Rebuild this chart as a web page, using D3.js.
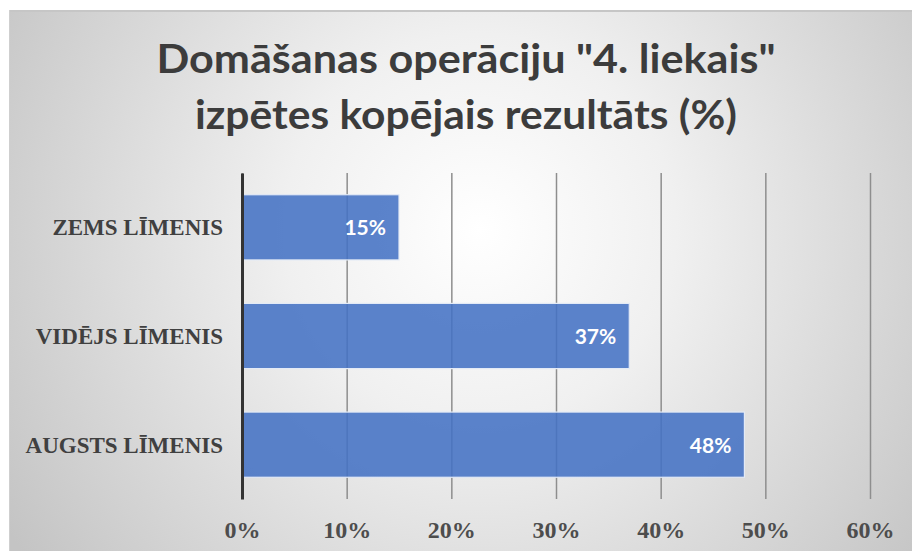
<!DOCTYPE html>
<html><head><meta charset="utf-8">
<script src="https://cdn.jsdelivr.net/npm/d3@7"></script>
<style>html,body{margin:0;padding:0;background:#fff;}svg{display:block;}</style>
</head><body>
<script>
const titleLines = ["Domāšanas operāciju \"4. liekais\"", "izpētes kopējais rezultāts (%)"];
const categories = ["ZEMS LĪMENIS", "VIDĒJS LĪMENIS", "AUGSTS LĪMENIS"];
const values = [15, 37, 48];
const tickValues = [0, 10, 20, 30, 40, 50, 60];

const W = 912, H = 551;
const svg = d3.select("body").append("svg").attr("width", W).attr("height", H);
const defs = svg.append("defs");
const rg = defs.append("radialGradient").attr("id", "bg")
  .attr("gradientUnits", "userSpaceOnUse")
  .attr("cx", 480).attr("cy", 230).attr("r", 560);
rg.append("stop").attr("offset", "0").attr("stop-color", "#ffffff");
rg.append("stop").attr("offset", "0.35").attr("stop-color", "#f0f0f0");
rg.append("stop").attr("offset", "1").attr("stop-color", "#c4c4c4");

svg.append("rect").attr("x", 9).attr("y", 10).attr("width", W - 9).attr("height", H - 10).attr("fill", "url(#bg)");
svg.append("line").attr("x1", 9).attr("x2", W).attr("y1", 11).attr("y2", 11).attr("stroke", "#c6c6c6").attr("stroke-width", 2);
svg.append("line").attr("x1", 9.5).attr("x2", 9.5).attr("y1", 10).attr("y2", H).attr("stroke", "#cfcfcf").attr("stroke-width", 1);

// title
const titleG = svg.append("g");
const titleY = [73, 129], titleW = [619, 542];
titleLines.forEach((t, i) => {
  titleG.append("text").attr("x", 466).attr("y", titleY[i])
    .attr("text-anchor", "middle")
    .attr("font-family", "Lato, 'Open Sans', sans-serif").attr("font-weight", 700)
    .attr("font-size", 40).attr("fill", "#3c3c3c")
    .attr("textLength", titleW[i]).attr("lengthAdjust", "spacingAndGlyphs")
    .text(t);
});

const x = d3.scaleLinear().domain([0, 60]).range([242, 870]);
const y = d3.scaleBand().domain(categories).range([173, 499]).paddingInner(0.4).paddingOuter(0.2);

// grid + x tick labels
const xAxis = d3.axisBottom(x).tickValues(tickValues).tickFormat(d => d + "%")
  .tickSizeInner(-(499 - 173)).tickSizeOuter(0).tickPadding(22);
const gx = svg.append("g").attr("transform", "translate(0,499)").call(xAxis);
gx.select(".domain").remove();
gx.selectAll(".tick line").attr("stroke", "#8e8e8e").attr("stroke-width", 1.5);
gx.selectAll(".tick text").attr("font-family", "'Liberation Serif', 'Times New Roman', serif")
  .attr("font-weight", "bold").attr("font-size", 24).attr("fill", "#4d4d4d")
  .attr("y", 39).attr("dy", 0);

// bars
svg.append("g").selectAll("rect").data(values).join("rect")
  .attr("x", x(0)).attr("y", (d, i) => y(categories[i]))
  .attr("width", d => x(d) - x(0)).attr("height", y.bandwidth())
  .attr("fill", "#4472C4").attr("fill-opacity", 0.88)
  .attr("stroke", "#e3eaf6").attr("stroke-width", 1.2);

// value labels
svg.append("g").selectAll("text").data(values).join("text")
  .attr("x", d => x(d) - 13)
  .attr("y", (d, i) => y(categories[i]) + y.bandwidth() / 2 + 8)
  .attr("text-anchor", "end")
  .attr("font-family", "Lato, 'Open Sans', sans-serif").attr("font-weight", 700)
  .attr("font-size", 21).attr("fill", "#ffffff")
  .text(d => d + "%");

// y axis
const yAxis = d3.axisLeft(y).tickSize(0).tickPadding(19);
const gy = svg.append("g").attr("transform", "translate(242,0)").call(yAxis);
gy.select(".domain").attr("stroke", "#333").attr("stroke-width", 3);
gy.selectAll(".tick text").attr("font-family", "'Liberation Serif', 'Times New Roman', serif")
  .attr("font-weight", "bold").attr("font-size", 23).attr("fill", "#404040")
  .attr("dy", 0).attr("y", 8);
</script>
</body></html>
